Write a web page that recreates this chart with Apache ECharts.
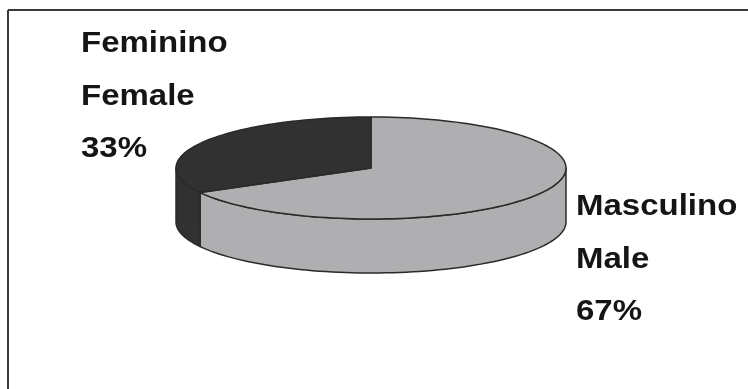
<!DOCTYPE html>
<html>
<head>
<meta charset="utf-8">
<script src="https://cdn.jsdelivr.net/npm/echarts@6/dist/echarts.min.js"></script>
<style>html,body{margin:0;padding:0;background:#fff}#main{width:748px;height:389px}</style>
</head>
<body>
<div id="main"></div>
<script>
// Data
const categories = ['Masculino', 'Feminino'];
const englishNames = ['Male', 'Female'];
const values = [67, 33];
const colors = ['#afafb1', '#323132'];

const total = values.reduce((a, b) => a + b, 0);
const chart = echarts.init(document.getElementById('main'));

const geo = { cx: 371, cy: 168, rx: 195, ry: 51, depth: 54 };
const labelPos = [
  { x: 576, y: 180.5, lh: 52.5 },
  { x: 81, y: 18, lh: 52.4 }
];

function pt(a, dy) {
  const r = a * Math.PI / 180;
  return [geo.cx + geo.rx * Math.cos(r), geo.cy - geo.ry * Math.sin(r) + (dy || 0)];
}
function arcPts(a1, a2, dy) {
  const pts = [];
  const n = Math.max(2, Math.ceil(Math.abs(a2 - a1) / 2));
  for (let k = 0; k <= n; k++) pts.push(pt(a1 + (a2 - a1) * k / n, dy));
  return pts;
}

function renderItem(params, api) {
  const i = params.dataIndex;
  const v = api.value(0);
  let before = 0;
  for (let j = 0; j < i; j++) before += values[j];
  const start = 90 - before / total * 360;
  const end = start - v / total * 360;
  const children = [];
  const stroke = { stroke: '#2a2a2a', lineWidth: 1.5, lineJoin: 'round' };
  // side walls (visible front part)
  for (let k = -2; k <= 1; k++) {
    const lo = Math.max(end, -180 + k * 360);
    const hi = Math.min(start, 0 + k * 360);
    if (hi > lo) {
      const top = arcPts(hi, lo, 0);
      const bot = arcPts(lo, hi, geo.depth);
      children.push({
        type: 'polygon',
        shape: { points: top.concat(bot) },
        style: Object.assign({ fill: colors[i] }, stroke)
      });
    }
  }
  // top surface
  children.push({
    type: 'polygon',
    shape: { points: [[geo.cx, geo.cy]].concat(arcPts(start, end, 0)) },
    style: Object.assign({ fill: colors[i] }, stroke)
  });
  const lp = labelPos[i];
  children.push({
    type: 'text',
    x: lp.x, y: lp.y,
    scaleX: 1.1,
    style: {
      text: categories[i] + '\n' + englishNames[i] + '\n' + Math.round(v / total * 100) + '%',
      fill: '#151515',
      font: 'bold 30px "Liberation Sans", Arial, sans-serif',
      lineHeight: lp.lh,
      verticalAlign: 'top',
      align: 'left'
    }
  });
  return { type: 'group', children: children };
}

chart.setOption({
  animation: false,
  graphic: [
    { type: 'line', shape: { x1: 8, y1: 10, x2: 748, y2: 10 }, style: { stroke: '#3a3a3a', lineWidth: 2 } },
    { type: 'line', shape: { x1: 8, y1: 10, x2: 8, y2: 389 }, style: { stroke: '#3a3a3a', lineWidth: 2 } }
  ],
  series: [{
    type: 'custom',
    coordinateSystem: 'none',
    data: values.map(v => [v]),
    renderItem: renderItem
  }]
});
</script>
</body>
</html>
